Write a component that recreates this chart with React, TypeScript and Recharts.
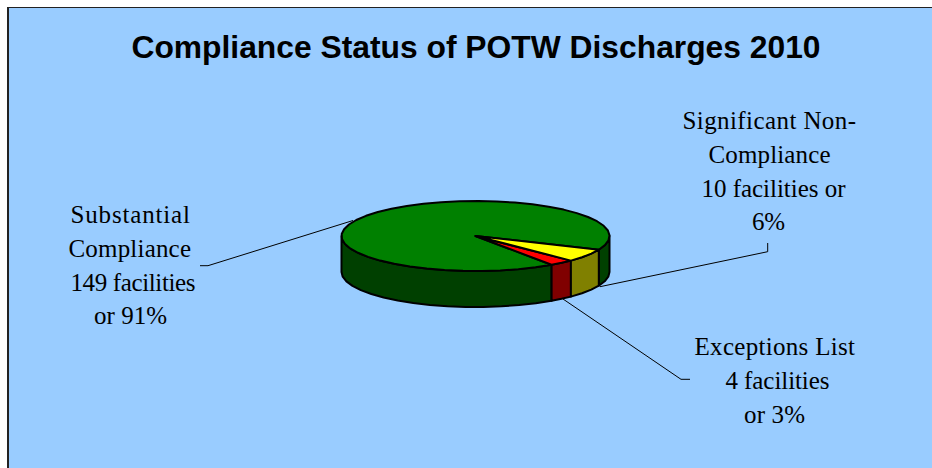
import React from 'react';
import { PieChart, Pie, Cell } from 'recharts';

const categories = ['Substantial Compliance', 'Exceptions List', 'Significant Non-Compliance'];
const percentages = [91, 3, 6];
const topColors = ['#008000', '#FF0000', '#FFFF00'];
const wallColors = ['#004000', '#800000', '#808000'];

const labelLines = [
  ['Substantial', 'Compliance', '149 facilities', 'or 91%'],
  ['Exceptions List', '4 facilities', 'or 3%'],
  ['Significant Non-', 'Compliance', '10 facilities or', '6%'],
];
// left edge and printed width of each label line
const labelLeft = [
  [70.5, 68.5, 70.5, 94],
  [694.5, 725.5, 744],
  [682.5, 708.5, 701.5, 752],
];
const labelWidth = [
  [119.5, 122.5, 125, 73],
  [160.5, 104, 61],
  [173.5, 122, 144, 33],
];
const labelY = [223, 355, 129];
const leaders = [
  '200,265.7 208,265.7 353,220.5',
  '563,299 681,379.3 690,379.3',
  '767.7,243 767.7,251.7 600,286.7',
];

const tableData = categories.map((name, i) => ({ name, value: percentages[i] }));

const RX = 134;
const RY = 35;
const DEPTH = 36;
const RAD = Math.PI / 180;

// point on the tilted rim, angle in recharts degrees (counter clockwise)
const rim = (cx: number, cy: number, a: number, drop = 0) => [
  cx + RX * Math.cos(a * RAD),
  cy - RY * Math.sin(a * RAD) + drop,
];

const arcPoints = (cx: number, cy: number, from: number, to: number, drop = 0) => {
  const pts: number[][] = [];
  const steps = Math.max(1, Math.ceil(Math.abs(to - from) / 8));
  for (let i = 0; i <= steps; i++) {
    pts.push(rim(cx, cy, from + ((to - from) * i) / steps, drop));
  }
  return pts;
};

const toPath = (pts: number[][]) =>
  'M' + pts.map((p) => `${p[0].toFixed(1)},${p[1].toFixed(1)}`).join('L') + 'Z';

// slice with its wall, only the front half of the rim gets a wall
const Slice3D = (props: any) => {
  const { cx, cy, startAngle, endAngle, index } = props;
  const walls: React.ReactNode[] = [];
  [[-180, 0], [180, 360]].forEach(([lo, hi]) => {
    const from = Math.max(startAngle, lo);
    const to = Math.min(endAngle, hi);
    if (to > from) {
      const front = arcPoints(cx, cy, from, to);
      const back = arcPoints(cx, cy, to, from, DEPTH);
      walls.push(
        <path key={lo} d={toPath([...front, ...back])} fill={wallColors[index]} stroke="#000" strokeWidth={2} strokeLinejoin="round" />
      );
    }
  });
  const top = [[cx, cy], ...arcPoints(cx, cy, startAngle, endAngle)];
  return (
    <g>
      {walls}
      <path d={toPath(top)} fill={topColors[index]} stroke="#000" strokeWidth={2} strokeLinejoin="round" />
    </g>
  );
};

const SliceLabel = (props: any) => {
  const i = props.index;
  return (
    <g>
      <polyline points={leaders[i]} fill="none" stroke="#000" strokeWidth={1} />
      {labelLines[i].map((line, j) => (
        <text
          key={j}
          x={labelLeft[i][j]}
          y={labelY[i] + j * 33.8}
          textLength={labelWidth[i][j]}
          lengthAdjust="spacing"
          fontFamily="'Liberation Serif', serif"
          fontSize={25}
          fill="#000"
        >
          {line}
        </text>
      ))}
    </g>
  );
};

export default function App() {
  return (
    <div style={{ position: 'absolute', left: 0, top: 0, width: 932, height: 468, background: '#fff', overflow: 'hidden' }}>
      <div style={{ position: 'absolute', left: 7, top: 7, width: 940, height: 480, background: '#99CCFF', borderLeft: '2px solid #222', borderTop: '1px solid #222' }} />
      <div style={{ position: 'absolute', left: 0, top: 29, width: 952, textAlign: 'center', font: "bold 31.8px 'Liberation Sans', sans-serif", color: '#000' }}>
        Compliance Status of POTW Discharges 2010
      </div>
      <div style={{ position: 'absolute', left: 0, top: 0 }}>
        <PieChart width={932} height={468} margin={{ top: 0, right: 0, bottom: 0, left: 0 }}>
          <Pie
            data={tableData}
            dataKey="value"
            cx={475.5}
            cy={236}
            outerRadius={134}
            startAngle={-23}
            endAngle={337}
            paddingAngle={0}
            isAnimationActive={false}
            shape={Slice3D}
            label={SliceLabel}
            labelLine={false}
          >
            {tableData.map((d, i) => (
              <Cell key={d.name} fill={topColors[i]} />
            ))}
          </Pie>
        </PieChart>
      </div>
    </div>
  );
}
